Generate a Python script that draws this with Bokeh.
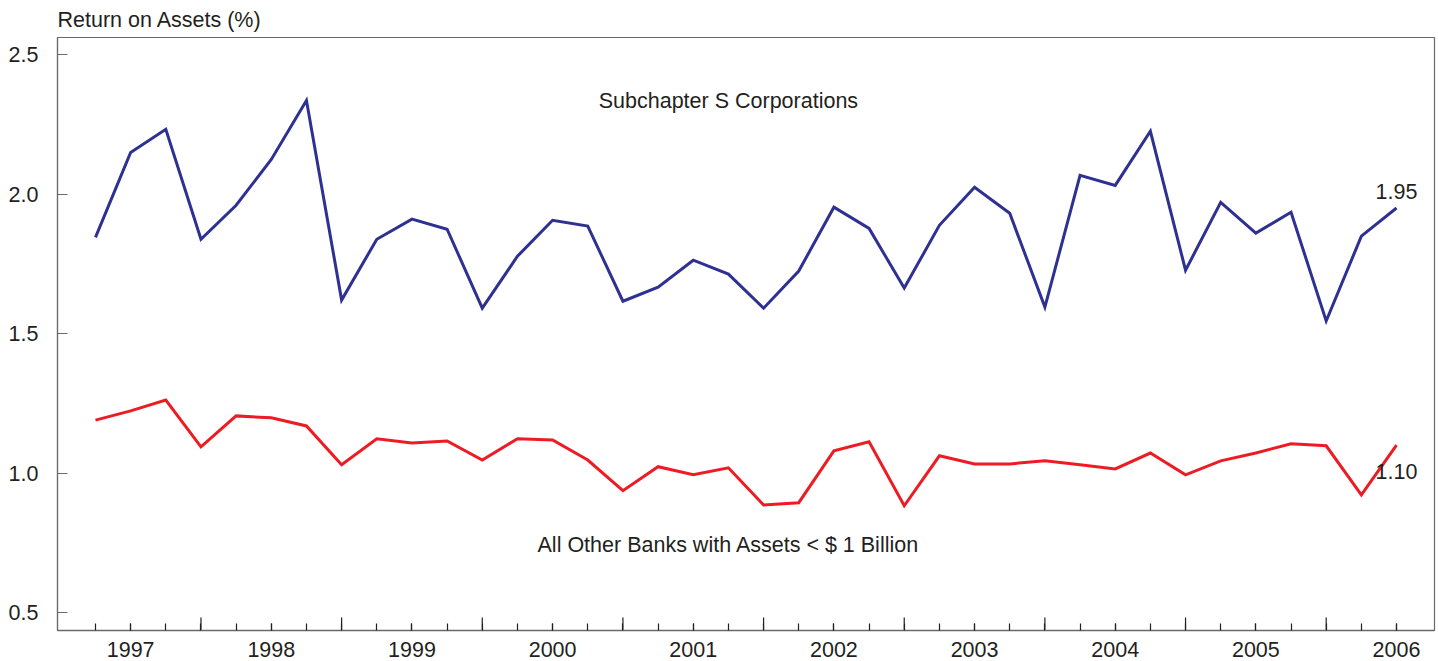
from bokeh.plotting import figure
from bokeh.models import Range1d, LinearAxis, FixedTicker, Label, Title, ColumnDataSource, PrintfTickFormatter
from bokeh.embed import file_html
from bokeh.resources import INLINE

# ---- data -------------------------------------------------------------
years = ["1997", "1998", "1999", "2000", "2001", "2002", "2003", "2004", "2005", "2006"]
# quarterly observations, 1997 Q1 .. 2006 Q2
subchapter_s = [1.845, 2.149, 2.232, 1.838, 1.960, 2.124, 2.335, 1.620,
                1.838, 1.910, 1.874, 1.591, 1.777, 1.906, 1.885, 1.616,
                1.666, 1.763, 1.713, 1.591, 1.724, 1.953, 1.877, 1.663,
                1.888, 2.024, 1.931, 1.595, 2.067, 2.031, 2.225, 1.727,
                1.970, 1.860, 1.935, 1.545, 1.849, 1.950]
other_banks = [1.190, 1.223, 1.262, 1.094, 1.205, 1.198, 1.169, 1.030,
               1.123, 1.108, 1.115, 1.047, 1.123, 1.119, 1.047, 0.937,
               1.023, 0.994, 1.019, 0.886, 0.894, 1.080, 1.112, 0.883,
               1.062, 1.033, 1.033, 1.044, 1.030, 1.015, 1.072, 0.994,
               1.044, 1.072, 1.105, 1.098, 0.922, 1.100]
y_ticks = [0.5, 1.0, 1.5, 2.0, 2.5]
series_names = ["Subchapter S Corporations", "All Other Banks with Assets < $ 1 Billion"]
y_title = "Return on Assets (%)"

quarter_idx = list(range(len(subchapter_s)))

# ---- style ------------------------------------------------------------
FONT = "Liberation Sans"
FS = "21.5px"
TXT = "#231F20"
AX = "#6A6A6A"
BLUE = "#2E3192"
RED = "#ED1C24"

X0, X1 = -1.08, 38.08
Y0, Y1 = 0.436, 2.561

p = figure(width=1438, height=661, output_backend="svg", toolbar_location=None,
           x_range=Range1d(X0, X1), y_range=Range1d(Y0, Y1),
           x_axis_location=None, y_axis_location=None,
           min_border_left=57, min_border_right=4, min_border_top=36, min_border_bottom=31)
p.grid.visible = False
p.outline_line_color = AX
p.outline_line_width = 1.2
p.background_fill_color = "white"
p.border_fill_color = "white"

p.add_layout(Title(text=y_title, align="left", offset=0, standoff=11,
                   text_font=FONT, text_font_size=FS, text_font_style="normal",
                   text_color=TXT), "above")

# left axis
yax = LinearAxis(ticker=FixedTicker(ticks=y_ticks))
yax.major_tick_in = 10
yax.major_tick_out = 0
yax.minor_tick_line_color = None
yax.major_tick_line_color = AX
yax.axis_line_color = AX
yax.axis_line_width = 1.2
yax.major_tick_line_width = 1.2
yax.major_label_standoff = 19
yax.major_label_text_font = FONT
yax.major_label_text_font_size = FS
yax.major_label_text_color = TXT
yax.formatter = PrintfTickFormatter(format="%.1f")
p.add_layout(yax, "left")

# bottom axis: a small tick at every quarter, year label on the 2nd quarter
q2 = [i for i in quarter_idx if i % 4 == 1]
q4 = [i for i in quarter_idx if i % 4 == 3]
xax = LinearAxis(ticker=FixedTicker(ticks=q2, minor_ticks=quarter_idx))
xax.major_label_overrides = {q: y for q, y in zip(q2, years)}
xax.major_tick_in = 7
xax.major_tick_out = 0
xax.minor_tick_in = 7
xax.minor_tick_out = 0
xax.major_tick_line_color = TXT
xax.minor_tick_line_color = TXT
xax.major_tick_line_width = 1.2
xax.minor_tick_line_width = 1.2
xax.axis_line_color = AX
xax.axis_line_width = 1.5
xax.major_label_standoff = 11
xax.major_label_text_font = FONT
xax.major_label_text_font_size = FS
xax.major_label_text_color = TXT
p.add_layout(xax, "below")

# taller ticks at the year boundaries (after Q4)
p.ray(x=q4, y=[Y0] * len(q4), length=13, length_units="screen", angle=90,
      angle_units="deg", line_color=TXT, line_width=1.2)

src = ColumnDataSource(dict(q=quarter_idx, s=subchapter_s, o=other_banks))
p.line("q", "s", source=src, line_color=BLUE, line_width=3, line_join="miter")
p.line("q", "o", source=src, line_color=RED, line_width=3, line_join="miter")

common = dict(text_font=FONT, text_font_size=FS, text_color=TXT)
p.add_layout(Label(x=18, y=2.332, text=series_names[0], text_align="center",
                   text_baseline="middle", **common))
p.add_layout(Label(x=18, y=0.744, text=series_names[1], text_align="center",
                   text_baseline="middle", **common))
p.add_layout(Label(x=quarter_idx[-1], y=subchapter_s[-1], text=f"{subchapter_s[-1]:.2f}",
                   text_align="center", text_baseline="middle", y_offset=17, **common))
p.add_layout(Label(x=quarter_idx[-1], y=other_banks[-1], text=f"{other_banks[-1]:.2f}",
                   text_align="center", text_baseline="middle", y_offset=-26, **common))

open("out.html", "w").write(file_html(p, INLINE))
